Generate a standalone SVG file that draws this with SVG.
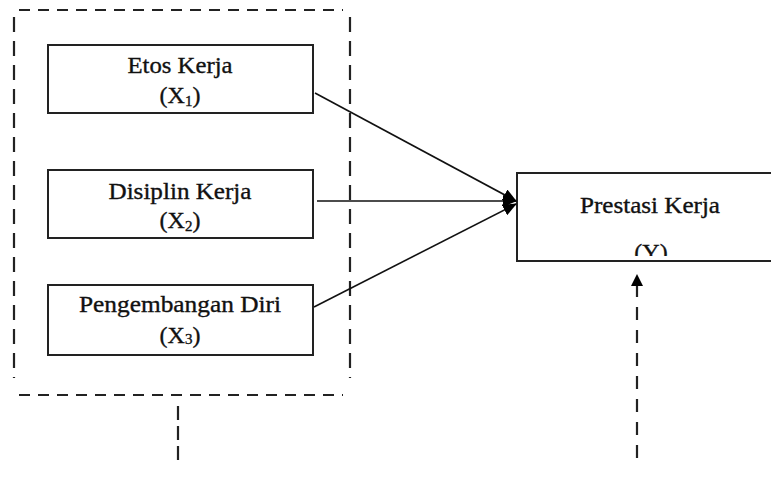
<svg xmlns="http://www.w3.org/2000/svg" width="771" height="477" viewBox="0 0 771 477">
<defs>
<style>
.box{fill:#fff;stroke:#222;stroke-width:2}
.t{font-family:"Liberation Serif","Times New Roman",serif;font-size:23px;fill:#111;stroke:#111;stroke-width:0.35;text-anchor:middle}
.p{font-size:24px}
.sub{font-size:15px}
.dash{stroke:#222;stroke-width:2.2;fill:none}
.conn{stroke:#111;stroke-width:1.6;fill:none}
</style>
<marker id="ah" markerWidth="14" markerHeight="12" refX="13" refY="6" orient="auto" markerUnits="userSpaceOnUse">
<path d="M0,0 L14,6 L0,12 Z" fill="#000"/>
</marker>
<clipPath id="clipY"><rect x="517" y="172" width="270" height="84"/></clipPath>
</defs>
<rect width="771" height="477" fill="#fff"/>
<g id="frame">
<line class="dash" x1="19" y1="10" x2="343" y2="10" stroke-dasharray="11 8"/>
<line class="dash" x1="19" y1="395" x2="343" y2="395" stroke-dasharray="11 8"/>
<line class="dash" x1="14" y1="17" x2="14" y2="378" stroke-dasharray="15 9"/>
<line class="dash" x1="350" y1="17" x2="350" y2="378" stroke-dasharray="15 9"/>
<line class="dash" x1="178" y1="406" x2="178" y2="462" stroke-dasharray="14 6"/>
</g>
<g id="x1">
<rect class="box" x="48" y="45" width="265" height="68"/>
<text class="t" x="180" y="73" textLength="105" lengthAdjust="spacingAndGlyphs">Etos Kerja</text>
<text class="t p" x="180" y="103">(X<tspan class="sub" dy="3">1</tspan><tspan dy="-3">)</tspan></text>
</g>
<g id="x2">
<rect class="box" x="48" y="170" width="265" height="68"/>
<text class="t" x="180" y="199" textLength="143" lengthAdjust="spacingAndGlyphs">Disiplin Kerja</text>
<text class="t p" x="180" y="228">(X<tspan class="sub" dy="3">2</tspan><tspan dy="-3">)</tspan></text>
</g>
<g id="x3">
<rect class="box" x="48" y="285" width="265" height="70"/>
<text class="t" x="180" y="312" textLength="202" lengthAdjust="spacingAndGlyphs">Pengembangan Diri</text>
<text class="t p" x="180" y="343">(X<tspan class="sub" dy="1">3</tspan><tspan dy="-1">)</tspan></text>
</g>
<g id="y">
<rect class="box" x="517" y="173" width="266" height="88"/>
<text class="t" x="650" y="213" textLength="140" lengthAdjust="spacingAndGlyphs">Prestasi Kerja</text>
<text class="t p" x="651" y="260" clip-path="url(#clipY)">(Y)</text>
</g>
<g id="connectors">
<line class="conn" x1="315" y1="93" x2="516" y2="201" marker-end="url(#ah)"/>
<line class="conn" x1="317" y1="201" x2="516" y2="201" marker-end="url(#ah)"/>
<line class="conn" x1="314" y1="307" x2="516" y2="204" marker-end="url(#ah)"/>
<line class="dash" x1="637" y1="458" x2="637" y2="285" stroke-dasharray="13 10"/>
<path d="M637,274 L643,286 L631,286 Z" fill="#000"/>
</g>
</svg>
